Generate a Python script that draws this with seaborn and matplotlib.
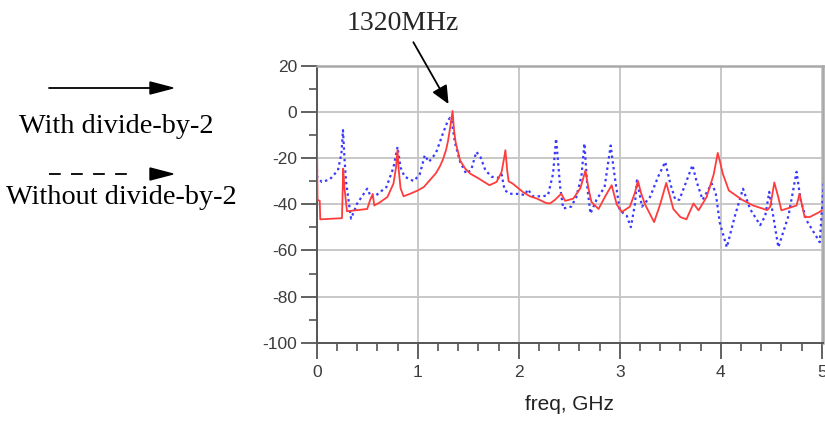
import matplotlib
matplotlib.use("Agg")
import matplotlib.pyplot as plt
from matplotlib.lines import Line2D
from matplotlib.patches import Polygon
from matplotlib.ticker import MultipleLocator
import seaborn as sns
import pandas as pd

# ---- data ----
freq_with = [0.000, 0.008, 0.030, 0.035, 0.250, 0.255, 0.262, 0.275, 0.300, 0.400, 0.500, 0.530,
             0.555, 0.570, 0.630, 0.700, 0.760, 0.785, 0.800, 0.812, 0.830, 0.860, 0.920, 1.000,
             1.060, 1.120, 1.180, 1.220, 1.250, 1.280, 1.300, 1.320, 1.345, 1.360, 1.375, 1.420,
             1.470, 1.520, 1.600, 1.710, 1.780, 1.830, 1.855, 1.868, 1.885, 1.900, 1.940, 2.040,
             2.110, 2.180, 2.270, 2.310, 2.360, 2.420, 2.460, 2.540, 2.610, 2.640, 2.660, 2.690,
             2.720, 2.790, 2.850, 2.920, 2.970, 3.020, 3.100, 3.150, 3.180, 3.210, 3.250, 3.340,
             3.400, 3.460, 3.500, 3.530, 3.600, 3.660, 3.730, 3.780, 3.860, 3.930, 3.970, 3.995,
             4.020, 4.080, 4.210, 4.320, 4.460, 4.490, 4.530, 4.570, 4.600, 4.750, 4.780, 4.830,
             4.880, 4.970, 5.000]
level_with = [0.5, -38.0, -38.5, -46.5, -46.0, -38.0, -24.5, -33.0, -43.0, -42.5, -42.0, -38.0,
              -35.5, -40.5, -39.0, -36.8, -31.0, -24.0, -16.5, -25.0, -33.0, -36.5, -35.5, -34.0,
              -32.5, -29.5, -26.5, -23.5, -20.5, -16.5, -12.5, -7.0, 0.5, -8.0, -13.0, -21.0,
              -24.5, -26.7, -28.7, -31.7, -30.3, -26.0, -20.0, -16.5, -25.0, -30.0, -31.0, -34.6,
              -36.5, -37.5, -39.4, -39.6, -38.0, -35.4, -38.5, -37.5, -33.0, -28.5, -25.2, -33.0,
              -39.0, -42.0, -37.0, -31.7, -40.0, -43.3, -41.0, -35.0, -29.8, -35.0, -40.0, -47.7,
              -40.0, -30.7, -37.0, -42.0, -45.5, -46.5, -39.6, -42.6, -36.8, -27.0, -17.7, -22.0,
              -26.7, -34.0, -38.0, -40.5, -42.5, -41.0, -30.5, -37.0, -42.6, -40.5, -35.4, -45.5,
              -45.5, -43.5, -42.6]

freq_without = [0.000, 0.003, 0.050, 0.130, 0.210, 0.245, 0.260, 0.275, 0.290, 0.340, 0.400, 0.500,
                0.540, 0.590, 0.690, 0.760, 0.800, 0.830, 0.870, 0.960, 1.020, 1.070, 1.110, 1.180,
                1.250, 1.300, 1.320, 1.335, 1.370, 1.420, 1.480, 1.530, 1.580, 1.620, 1.670, 1.730,
                1.800, 1.830, 1.860, 1.910, 2.010, 2.060, 2.090, 2.140, 2.240, 2.290, 2.340, 2.370,
                2.410, 2.440, 2.520, 2.570, 2.620, 2.650, 2.680, 2.710, 2.770, 2.850, 2.910, 2.950,
                3.000, 3.070, 3.110, 3.150, 3.170, 3.220, 3.300, 3.380, 3.450, 3.500, 3.550, 3.590,
                3.660, 3.720, 3.760, 3.820, 3.910, 3.950, 3.990, 4.060, 4.140, 4.220, 4.290, 4.390,
                4.440, 4.480, 4.570, 4.670, 4.750, 4.790, 4.850, 4.980, 5.020]
level_without = [-5.0, -28.0, -30.3, -29.2, -25.2, -18.0, -7.8, -20.0, -30.0, -46.2, -39.7, -33.2,
                 -37.0, -36.0, -32.5, -24.0, -15.1, -24.0, -28.0, -29.9, -27.0, -18.7, -21.6, -17.8,
                 -9.2, -3.5, -2.5, -3.5, -13.5, -21.6, -26.7, -25.0, -17.2, -19.4, -25.2, -28.0,
                 -28.5, -27.0, -33.8, -35.4, -35.5, -36.0, -33.5, -36.5, -36.5, -36.0, -26.7, -11.5,
                 -32.5, -41.8, -41.0, -36.8, -28.0, -13.6, -33.0, -44.0, -38.0, -32.5, -14.5, -28.0,
                 -42.6, -45.0, -49.9, -40.0, -29.6, -41.0, -36.8, -28.0, -21.6, -31.0, -38.0, -38.0,
                 -30.0, -23.0, -30.0, -38.0, -31.0, -35.0, -48.0, -58.6, -45.0, -33.2, -42.0, -49.0,
                 -45.0, -34.6, -58.6, -45.0, -25.9, -38.0, -47.0, -56.4, -30.0]

y_ticks = [20, 0, -20, -40, -60, -80, -100]
x_ticks = [0, 1, 2, 3, 4, 5]

df_with = pd.DataFrame({"freq": freq_with, "level": level_with})
df_without = pd.DataFrame({"freq": freq_without, "level": level_without})

# ---- style ----
sns.set_style("white")
plt.rcParams["font.family"] = ["Liberation Sans", "DejaVu Sans"]
plt.rcParams["axes.unicode_minus"] = False

W, H = 825, 424
fig = plt.figure(figsize=(W / 100, H / 100), dpi=100)

def fx(px):
    return px / W

def fy(py):
    return 1 - py / H

ax = fig.add_axes([fx(316.7), fy(342.7), (823 - 316.7) / W, (342.7 - 66) / H])

sns.lineplot(data=df_without, x="freq", y="level", ax=ax, color="#3a3aff",
             linewidth=1.6, linestyle=(0, (1.1, 1.5)), sort=False, estimator=None, zorder=3)
sns.lineplot(data=df_with, x="freq", y="level", ax=ax, color="#ff3c3c",
             linewidth=1.3, sort=False, estimator=None, zorder=4)

ax.set_xlim(0, 5.012)
ax.set_ylim(-100, 20)
ax.set_xticks(x_ticks)
ax.set_yticks(y_ticks)
ax.xaxis.set_minor_locator(MultipleLocator(0.2))
ax.yaxis.set_minor_locator(MultipleLocator(10))

ax.grid(True, which="major", color="#c4c4c4", linewidth=1.3)
ax.set_axisbelow(True)

for side in ("top", "right"):
    ax.spines[side].set_color("#a8a8a8")
    ax.spines[side].set_linewidth(1.8)
for side in ("left", "bottom"):
    ax.spines[side].set_color("#555555")
    ax.spines[side].set_linewidth(1.4)

ax.tick_params(axis="both", which="both", bottom=True, left=True, top=False, right=False)
ax.tick_params(axis="both", which="major", direction="out", length=11.5, width=1.3,
               color="#555555", labelcolor="#3c3c3c", labelsize=12.5)
ax.tick_params(axis="y", which="major", pad=2.5)
ax.tick_params(axis="x", which="major", pad=4.5)
ax.tick_params(axis="both", which="minor", direction="out", length=5.8, width=1.2,
               color="#555555")

ax.set_xlabel("freq, GHz", fontsize=15, color="#222222", labelpad=11)
ax.set_ylabel("")

# ---- annotation for the 1320 MHz peak ----
ax.annotate("1320MHz", xy=(1.305, 3.5), xycoords="data",
            xytext=(fx(403), fy(24)), textcoords="figure fraction",
            ha="center", va="center", fontsize=20, family="Liberation Serif",
            annotation_clip=False,
            arrowprops=dict(arrowstyle="-|>,head_length=11,head_width=5",
                            mutation_scale=1, color="black", lw=1.3,
                            shrinkA=2, shrinkB=0))

# ---- left-hand legend-like keys ----
fig.add_artist(Line2D([fx(49), fx(152)], [fy(88), fy(88)], transform=fig.transFigure,
                      color="black", linewidth=1.3))
fig.add_artist(Polygon([(fx(150), fy(82)), (fx(173), fy(88)), (fx(150), fy(94))],
                       closed=True, transform=fig.transFigure, facecolor="black",
                       edgecolor="black"))
fig.text(fx(116.5), fy(133), "With divide-by-2", ha="center", va="baseline",
         fontsize=20.3, family="Liberation Serif", color="black")

fig.add_artist(Line2D([fx(49), fx(128)], [fy(174), fy(174)], transform=fig.transFigure,
                      color="black", linewidth=1.3, linestyle=(0, (6.5, 5.7))))
fig.add_artist(Polygon([(fx(150), fy(168)), (fx(173), fy(174)), (fx(150), fy(180))],
                       closed=True, transform=fig.transFigure, facecolor="black",
                       edgecolor="black"))
fig.text(fx(121), fy(204), "Without divide-by-2", ha="center", va="baseline",
         fontsize=20.3, family="Liberation Serif", color="black")

fig.savefig("out.png", dpi=100)
